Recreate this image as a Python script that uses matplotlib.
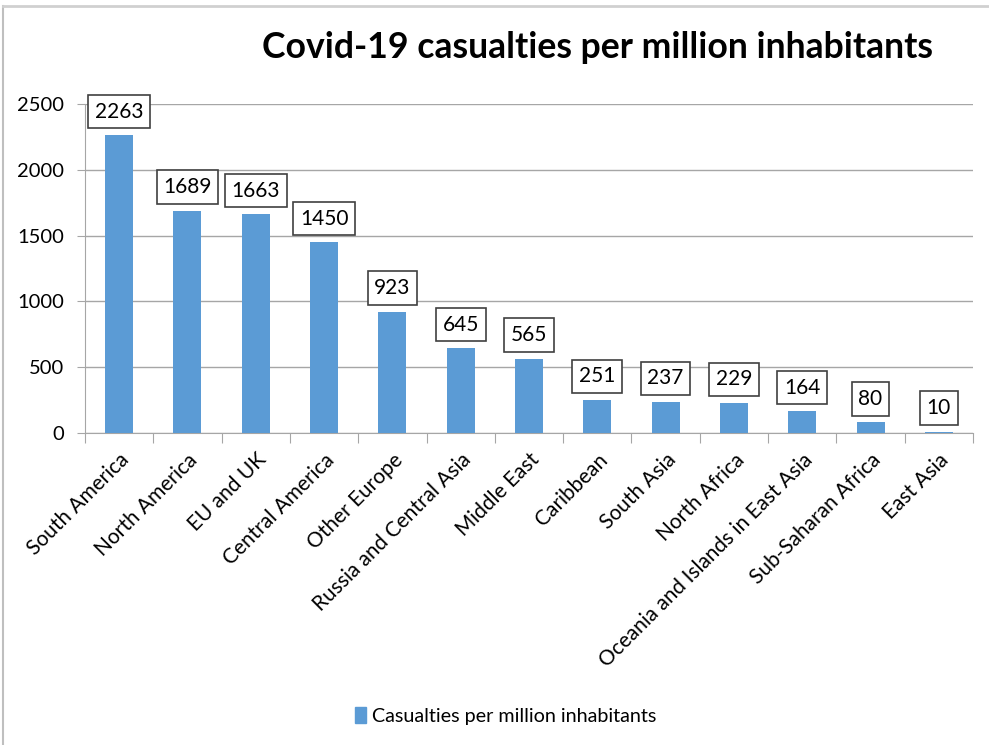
import matplotlib
matplotlib.use("Agg")
import matplotlib.pyplot as plt
from matplotlib.lines import Line2D
import numpy as np

categories = ["South America", "North America", "EU and UK", "Central America",
              "Other Europe", "Russia and Central Asia", "Middle East", "Caribbean",
              "South Asia", "North Africa", "Oceania and Islands in East Asia",
              "Sub-Saharan Africa", "East Asia"]
values = [2263, 1689, 1663, 1450, 923, 645, 565, 251, 237, 229, 164, 80, 10]
yticks = [0, 500, 1000, 1500, 2000, 2500]
title = "Covid-19 casualties per million inhabitants"
series_name = "Casualties per million inhabitants"

plt.rcParams['font.family'] = ['Lato', 'DejaVu Sans']

W, H = 989, 745
fig = plt.figure(figsize=(W / 100, H / 100), dpi=100)

# outer chart frame (top and left edges)
fig.add_artist(Line2D([3 / W, 3 / W], [0, 1 - 6 / H], transform=fig.transFigure,
                      color="#bfbfbf", lw=1.5))
fig.add_artist(Line2D([3 / W, 1], [1 - 6 / H, 1 - 6 / H], transform=fig.transFigure,
                      color="#d0d0d0", lw=2))

left, right, top, bottom = 85, 973, 104, 433
ax = fig.add_axes([left / W, 1 - bottom / H, (right - left) / W, (bottom - top) / H])

x = np.arange(len(categories))
bar_color = "#5B9BD5"
ax.bar(x, values, width=0.41, color=bar_color, zorder=3)

ax.set_xlim(-0.5, len(categories) - 0.5)
ax.set_ylim(0, 2500)
ax.set_yticks(yticks)
ax.set_yticklabels([str(v) for v in yticks], fontsize=14.5)
ax.yaxis.grid(True, color="#a6a6a6", lw=1, zorder=0)
ax.tick_params(axis="y", length=6, color="#a6a6a6", pad=9)

for s in ["top", "right"]:
    ax.spines[s].set_visible(False)
ax.spines["left"].set_color("#a6a6a6")
ax.spines["bottom"].set_color("#a6a6a6")

# x ticks at category boundaries, labels at centers
ax.set_xticks(np.arange(-0.5, len(categories), 1.0))
ax.set_xticklabels([])
ax.tick_params(axis="x", length=7, color="#a6a6a6")
ax.set_xticks(x, minor=True)
ax.set_xticklabels(categories, minor=True, rotation=45, ha="right",
                   rotation_mode="anchor", fontsize=15)
ax.tick_params(axis="x", which="minor", length=0, pad=12)

for xi, v in zip(x, values):
    ax.annotate(str(v), (xi, v), xytext=(0, 17), textcoords="offset points",
                ha="center", va="center", fontsize=15, zorder=5,
                bbox=dict(boxstyle="square,pad=0.32", fc="white", ec="#404040", lw=1.2))

fig.text(597 / W, 1 - 47 / H, title, ha="center", va="center",
         fontsize=25.6, fontweight="bold")

handle = plt.Rectangle((0, 0), 1, 1, color=bar_color)
fig.legend([handle], [series_name], loc="center", bbox_to_anchor=(506 / W, 1 - 716 / H),
           frameon=False, fontsize=14.2, handlelength=0.55, handleheight=0.9,
           handletextpad=0.3)

fig.savefig("out.png", dpi=100)
